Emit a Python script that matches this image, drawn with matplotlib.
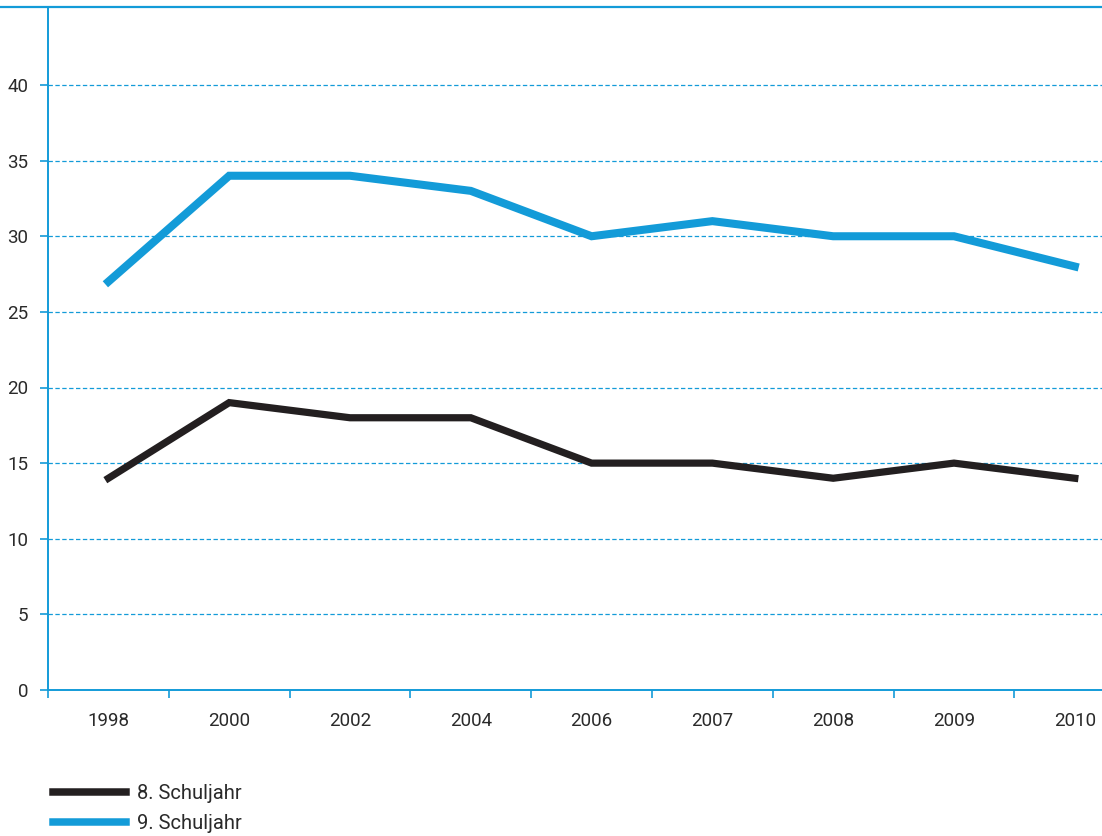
import matplotlib.pyplot as plt
from matplotlib.lines import Line2D

# Daten
jahre = ['1998', '2000', '2002', '2004', '2006', '2007', '2008', '2009', '2010']
schuljahr_8 = [14, 19, 18, 18, 15, 15, 14, 15, 14]
schuljahr_9 = [27, 34, 34, 33, 30, 31, 30, 30, 28]
y_ticks = [0, 5, 10, 15, 20, 25, 30, 35, 40]

blau = '#139bd8'
schwarz = '#231f20'
text_farbe = '#2a2a2a'

plt.rcParams['font.family'] = ['Roboto', 'DejaVu Sans']

fig = plt.figure(figsize=(11.02, 8.36), dpi=100)
W, H = 1102, 836
ax = fig.add_axes([48 / W, (H - 690) / H, (W - 48) / W, (690 - 7) / H])

x = list(range(len(jahre)))
ax.plot(x, schuljahr_8, color=schwarz, lw=5.2, solid_joinstyle='miter', label='8. Schuljahr')
ax.plot(x, schuljahr_9, color=blau, lw=5.8, solid_joinstyle='miter', label='9. Schuljahr')

ax.set_yticks(y_ticks)
ax.set_yticklabels([str(v) for v in y_ticks])
ax.set_xticks(x)
ax.set_xticklabels(jahre)
ax.set_xticks([i - 0.5 for i in range(len(jahre) + 1)], minor=True)

# Grenzen erst nach den Ticks setzen
ax.set_xlim(-0.5, -0.5 + (W - 48) / 120.8)
ax.set_ylim(0, (690 - 7) / 15.125)

for v in y_ticks[1:]:
    ax.axhline(v, color=blau, lw=0.9, ls=(0, (3.5, 2)), zorder=0)

for s in ['top', 'right']:
    ax.spines[s].set_visible(False)
ax.spines['left'].set_color(blau)
ax.spines['bottom'].set_color(blau)
ax.spines['left'].set_linewidth(1.4)
ax.spines['bottom'].set_linewidth(1.4)

ax.tick_params(axis='x', which='major', length=0, pad=16, labelsize=13.5, labelcolor=text_farbe)
ax.tick_params(axis='x', which='minor', length=6, width=1.2, color=blau, direction='out')
ax.tick_params(axis='y', length=6, width=1.2, color=blau, pad=8, labelsize=13.5, labelcolor=text_farbe)

# obere Linie über die ganze Breite
fig.add_artist(Line2D([0, 1], [(H - 7) / H, (H - 7) / H], color=blau, lw=1.6))

handles, labels = ax.get_legend_handles_labels()
leg = fig.legend(handles, labels, loc='upper left', bbox_to_anchor=(35 / W, (H - 766) / H),
                 frameon=False, handlelength=3.6, handletextpad=0.55, labelspacing=0.55,
                 fontsize=14.5, labelcolor=text_farbe)
for h in leg.legend_handles:
    h.set_linewidth(5.4)

fig.savefig('out.png', dpi=100)
